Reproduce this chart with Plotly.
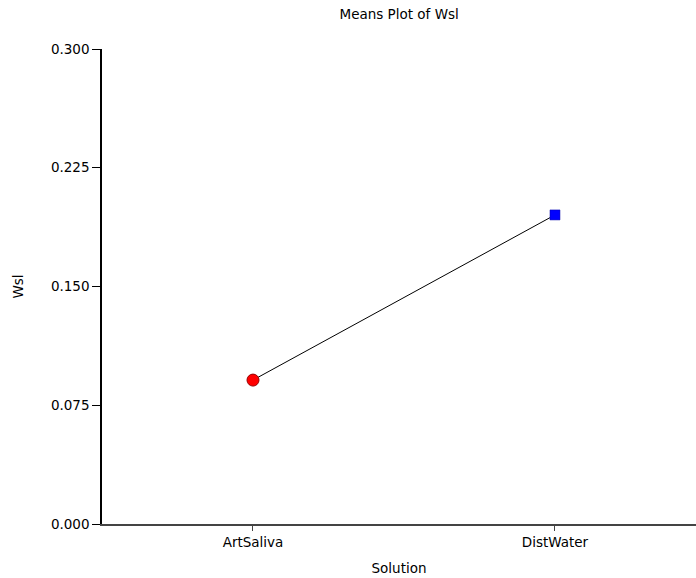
import plotly.graph_objects as go

categories = ["ArtSaliva", "DistWater"]
means = [0.0909, 0.1952]
y_ticks = [0.000, 0.075, 0.150, 0.225, 0.300]
y_tick_labels = ["0.000", "0.075", "0.150", "0.225", "0.300"]

fig = go.Figure()
fig.add_trace(go.Scatter(
    x=categories, y=means, mode="lines",
    line=dict(color="black", width=1), showlegend=False, hoverinfo="skip"))
fig.add_trace(go.Scatter(
    x=[categories[0]], y=[means[0]], mode="markers",
    marker=dict(symbol="circle", size=12, color="#ff0000",
                line=dict(color="#990000", width=1)), showlegend=False))
fig.add_trace(go.Scatter(
    x=[categories[1]], y=[means[1]], mode="markers",
    marker=dict(symbol="square", size=10, color="#0000ff",
                line=dict(color="#0000aa", width=0.5)), showlegend=False))

fam = "DejaVu Sans, Arial, sans-serif"
f14 = dict(family=fam, size=13.5, color="black")
fig.update_layout(
    width=696, height=578,
    margin=dict(l=102, r=0, t=49, b=54),
    paper_bgcolor="white", plot_bgcolor="white",
    font=f14,
    title=dict(text="Means Plot of Wsl", x=0.5735, xanchor="center",
               y=0.975, yanchor="middle", font=f14),
    xaxis=dict(type="category", range=[-0.5, 1.467], showgrid=False, zeroline=False,
               showline=True, linecolor="#444", linewidth=1.5,
               ticks="outside", ticklen=5, tickcolor="#444", tickfont=f14,
               title=dict(text="Solution", standoff=15, font=f14)),
    yaxis=dict(range=[0, 0.3], tickvals=y_ticks, ticktext=y_tick_labels,
               showgrid=False, zeroline=False,
               showline=True, linecolor="black", linewidth=1.5,
               ticks="outside", ticklen=8, tickcolor="black", tickfont=f14,
               title=dict(text="Wsl", standoff=24, font=f14)),
)
fig.write_html("out.html")
